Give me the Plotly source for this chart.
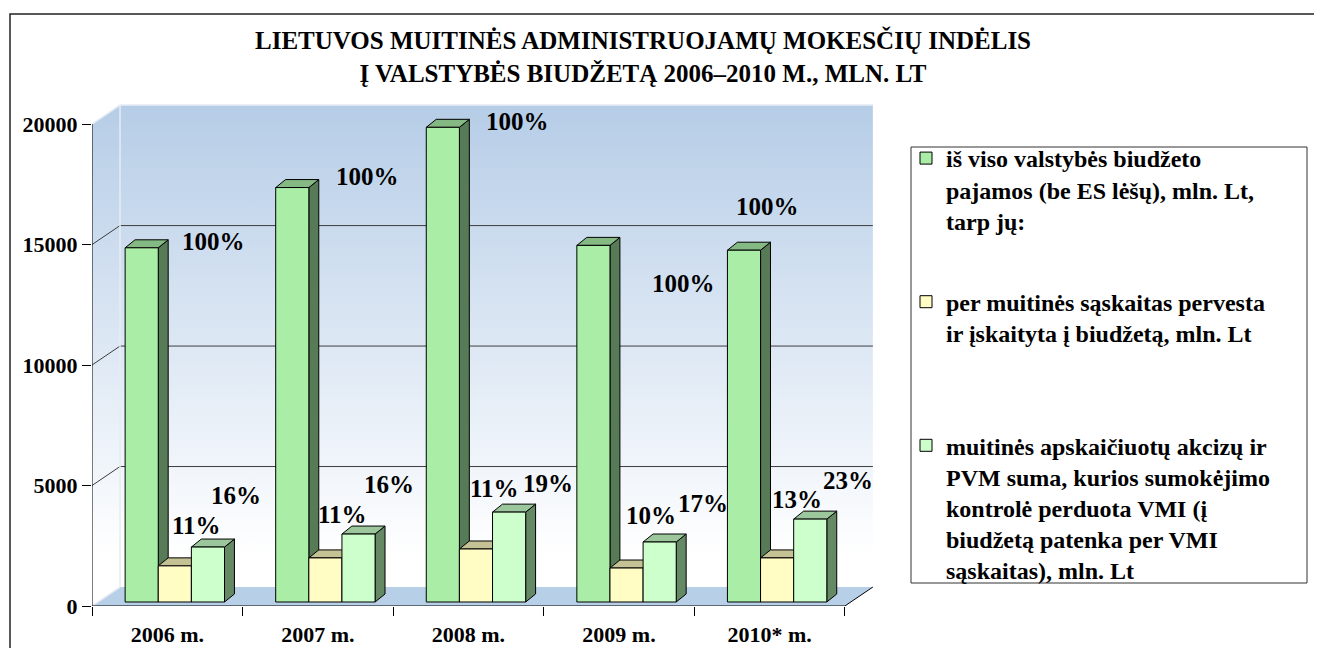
import plotly.graph_objects as go

# ---------------- data ----------------
categories = ["2006 m.", "2007 m.", "2008 m.", "2009 m.", "2010* m."]
total_revenue = [14700, 17200, 19700, 14800, 14600]
customs_transferred = [1500, 1830, 2200, 1410, 1830]
vmi_controlled = [2280, 2820, 3730, 2490, 3440]
pct_total = ["100%", "100%", "100%", "100%", "100%"]
pct_customs = ["11%", "11%", "11%", "10%", "13%"]
pct_vmi = ["16%", "16%", "19%", "17%", "23%"]
y_tick_values = [0, 5000, 10000, 15000, 20000]
y_tick_labels = ["0", "5000", "10000", "15000", "20000"]
series_names = [
    "iš viso valstybės biudžeto<br>pajamos (be ES lėšų), mln. Lt,<br>tarp jų:",
    "per muitinės sąskaitas pervesta<br>ir įskaityta į biudžetą, mln. Lt<br> ",
    "muitinės apskaičiuotų akcizų ir<br>PVM suma, kurios sumokėjimo<br>kontrolė perduota VMI (į<br>biudžetą patenka per VMI<br>sąskaitas), mln. Lt",
]
title_text = ("<b>LIETUVOS MUITINĖS ADMINISTRUOJAMŲ MOKESČIŲ INDĖLIS<br>"
              "Į VALSTYBĖS BIUDŽETĄ 2006–2010 M., MLN. LT</b>")

# ---------------- geometry / style ----------------
FONT = "Liberation Serif"
X_RANGE = [-0.5, 4.72]
Y_RANGE = [0, 21000]
WALL_DX, WALL_DY = 0.186, 788      # depth of the 3D box
BAR_DX, BAR_DY = 0.066, 332        # depth of each bar
BAR_BASE = 166
BAR_W = 0.22
OFFSETS = [-0.28, -0.06, 0.16]
FACE = ["#AAEDA6", "#FFFCC4", "#CCFFCC"]
SIDE = ["#577A57", "#8C8A62", "#658865"]
TOP = ["#84B984", "#C4C194", "#9CC79C"]
LABEL_SHIFTS = [
    [(72, 6), (75, 11), (75, 6), (90, -38), (24, 44)],
    [(22, 40), (17, 43), (19, 60), (24, 53), (20, 58)],
    [(28, 52), (30, 50), (39, 29), (43, 39), (38, 39)],
]

series_values = [total_revenue, customs_transferred, vmi_controlled]
series_labels = [pct_total, pct_customs, pct_vmi]
n = len(categories)
xmin_wall = -0.5
xmax_axis = n - 0.5

# figure-pixel layout (the page adds an 8px body margin)
PAGE_OFF = 8
ML, MT, PW, PH = 84, 92, 786, 506
MR = 1322 - ML - PW
MB = 648 - MT - PH


def px_x(page_x):
    return (page_x - PAGE_OFF - ML) / PW


def px_y(page_y):
    return (MT + PH - (page_y - PAGE_OFF)) / PH


fig = go.Figure()

# ---------------- walls and floor ----------------
wall_grad = dict(type="vertical", colorscale=[[0, "#FFFFFF"], [0.1, "#FFFFFF"], [1, "#B6CDE7"]],
                 start=0, stop=20000 + WALL_DY)
fig.add_trace(go.Scatter(
    x=[xmin_wall + WALL_DX, xmax_axis + WALL_DX, xmax_axis + WALL_DX, xmin_wall + WALL_DX, xmin_wall + WALL_DX],
    y=[WALL_DY, WALL_DY, 20000 + WALL_DY, 20000 + WALL_DY, WALL_DY],
    fill="toself", fillgradient=wall_grad, mode="lines", line=dict(width=0),
    showlegend=False, hoverinfo="skip", zorder=1))
fig.add_trace(go.Scatter(
    x=[xmin_wall, xmin_wall + WALL_DX, xmin_wall + WALL_DX, xmin_wall, xmin_wall],
    y=[0, WALL_DY, 20000 + WALL_DY, 20000, 0],
    fill="toself", fillgradient=wall_grad, mode="lines", line=dict(width=0),
    showlegend=False, hoverinfo="skip", zorder=1))
fig.add_trace(go.Scatter(
    x=[xmin_wall, xmax_axis, xmax_axis + WALL_DX, xmin_wall + WALL_DX, xmin_wall],
    y=[0, 0, WALL_DY, WALL_DY, 0],
    fill="toself", fillcolor="#B8CFE8", mode="lines", line=dict(width=0),
    showlegend=False, hoverinfo="skip", zorder=1))

# gridlines on back wall + diagonals on left wall
gx, gy = [], []
for g in y_tick_values[1:-1]:
    gx += [xmin_wall + WALL_DX, xmax_axis + WALL_DX, None, xmin_wall, xmin_wall + WALL_DX, None]
    gy += [g + WALL_DY, g + WALL_DY, None, g, g + WALL_DY, None]
fig.add_trace(go.Scatter(x=gx, y=gy, mode="lines", line=dict(color="#3C3C3C", width=1),
                         showlegend=False, hoverinfo="skip", zorder=2))
# light edges of the box
ex = [xmin_wall + WALL_DX, xmin_wall + WALL_DX, None,
      xmin_wall, xmin_wall + WALL_DX, xmax_axis + WALL_DX, None,
      xmin_wall, xmin_wall + WALL_DX]
ey = [WALL_DY, 20000 + WALL_DY, None,
      20000, 20000 + WALL_DY, 20000 + WALL_DY, None,
      0, WALL_DY]
fig.add_trace(go.Scatter(x=ex, y=ey, mode="lines", line=dict(color="#E6ECF4", width=1.5),
                         showlegend=False, hoverinfo="skip", zorder=2))

# ---------------- 3D bars ----------------
z = 3
for s, vals in enumerate(series_values):
    off = OFFSETS[s]
    sx, sy, tx, ty = [], [], [], []
    for i, v in enumerate(vals):
        xl = i + off
        xr = xl + BAR_W
        top = BAR_BASE + v
        sx += [xr, xr + BAR_DX, xr + BAR_DX, xr, xr, None]
        sy += [BAR_BASE, BAR_BASE + BAR_DY, top + BAR_DY, top, BAR_BASE, None]
        tx += [xl, xl + BAR_DX, xr + BAR_DX, xr, xl, None]
        ty += [top, top + BAR_DY, top + BAR_DY, top, top, None]
    fig.add_trace(go.Scatter(x=sx, y=sy, fill="toself", fillcolor=SIDE[s], mode="lines",
                             line=dict(color="black", width=1), showlegend=False,
                             hoverinfo="skip", zorder=z))
    fig.add_trace(go.Scatter(x=tx, y=ty, fill="toself", fillcolor=TOP[s], mode="lines",
                             line=dict(color="black", width=1), showlegend=False,
                             hoverinfo="skip", zorder=z))
    fig.add_trace(go.Bar(
        x=list(range(n)), y=vals, base=BAR_BASE, width=BAR_W, offset=off,
        marker=dict(color=FACE[s], line=dict(color="black", width=1)),
        name=series_names[s], legendgroup=f"g{s}", zorder=z + 1))
    z += 2
    for i, v in enumerate(vals):
        dx, dy = LABEL_SHIFTS[s][i]
        fig.add_annotation(x=i + off + BAR_W / 2, y=BAR_BASE + v,
                           text="<b>" + series_labels[s][i] + "</b>",
                           xshift=dx, yshift=dy, showarrow=False,
                           font=dict(family=FONT, size=25, color="black"))

# axis lines drawn on the front edge
fig.add_trace(go.Scatter(
    x=[xmin_wall, xmin_wall, None, xmin_wall, xmax_axis, xmax_axis + WALL_DX],
    y=[y_tick_values[-1], 0, None, 0, 0, WALL_DY],
    mode="lines", line=dict(color="black", width=1), showlegend=False,
    hoverinfo="skip", zorder=20))

# ---------------- layout ----------------
fig.update_layout(
    width=1322, height=648,
    margin=dict(l=ML, r=MR, t=MT, b=MB, autoexpand=False),
    paper_bgcolor="white", plot_bgcolor="white",
    barmode="overlay",
    title=dict(text=title_text, x=635 / 1322, xref="container", xanchor="center",
               y=1 - 41 / 648, yref="container", yanchor="top",
               font=dict(family=FONT, size=25, color="black")),
    xaxis=dict(range=X_RANGE, tickvals=list(range(n)), ticktext=categories,
               ticks="", showgrid=False, zeroline=False, showline=False,
               automargin=False, ticklabelstandoff=13,
               tickfont=dict(family=FONT, size=22, color="black", weight="bold"),
               minor=dict(tickvals=[i - 0.5 for i in range(n + 1)], ticks="outside",
                          ticklen=9, tickcolor="black", tickwidth=1, showgrid=False)),
    yaxis=dict(range=Y_RANGE, tickvals=y_tick_values, ticktext=y_tick_labels,
               ticks="outside", ticklen=9, automargin=False,
               tickcolor="black", showgrid=False, zeroline=False, showline=False,
               tickfont=dict(family=FONT, size=22, color="black", weight="bold")),
    legend=dict(x=px_x(906), y=px_y(136), xanchor="left", yanchor="top",
                borderwidth=0, bgcolor="rgba(0,0,0,0)",
                traceorder="grouped", tracegroupgap=47, valign="top",
                font=dict(family=FONT, size=24, color="black", weight="bold")),
    showlegend=True,
)

# legend frame
fig.add_shape(type="rect", xref="paper", yref="paper",
              x0=px_x(911), x1=px_x(1307), y0=px_y(583), y1=px_y(147),
              line=dict(color="#333333", width=1), fillcolor="rgba(0,0,0,0)", layer="below")

# outer frame
fig.add_shape(type="rect", xref="paper", yref="paper",
              x0=px_x(10), x1=px_x(1348), y0=px_y(678), y1=px_y(14),
              line=dict(color="#222222", width=1.5), fillcolor="rgba(0,0,0,0)", layer="below")

fig.write_html("out.html")
